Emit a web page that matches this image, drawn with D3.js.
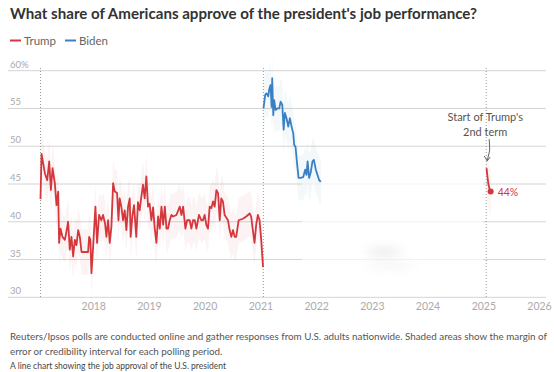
<!DOCTYPE html>
<html>
<head>
<meta charset="utf-8">
<script src="https://cdn.jsdelivr.net/npm/d3@7"></script>
<style>
body { margin: 0; background: #fff; }
svg { display: block; font-family: Lato, "Open Sans", sans-serif; }
</style>
</head>
<body>
<svg id="chart" width="554" height="372"></svg>
<script>
// Trump, first term (Reuters/Ipsos approval, %)
var trumpDates = [
  "2017-01-20","2017-01-27","2017-02-18","2017-03-05","2017-03-18","2017-03-29","2017-04-09","2017-04-24",
  "2017-05-05","2017-05-16","2017-05-22","2017-05-31","2017-06-13","2017-06-29","2017-07-09","2017-07-20",
  "2017-07-31","2017-08-11","2017-08-22","2017-09-02","2017-09-13","2017-09-24","2017-10-05","2017-10-16",
  "2017-11-28","2017-12-05","2017-12-13","2017-12-20","2017-12-31","2018-01-15","2018-01-26","2018-02-08",
  "2018-02-23","2018-03-06","2018-03-19","2018-03-28","2018-04-08","2018-04-19","2018-04-30","2018-05-11",
  "2018-05-22","2018-06-06","2018-06-15","2018-06-23","2018-07-04","2018-07-15","2018-07-26","2018-08-06",
  "2018-08-17","2018-08-28","2018-09-03","2018-09-14","2018-09-25","2018-10-10","2018-10-21","2018-11-01",
  "2018-11-12","2018-11-23","2018-12-04","2018-12-15","2018-12-26","2019-01-05","2019-01-17","2019-01-28",
  "2019-02-08","2019-02-19","2019-03-02","2019-03-13","2019-03-24","2019-04-04","2019-04-15","2019-04-26",
  "2019-05-06","2019-05-17","2019-05-28","2019-06-08","2019-06-30","2019-07-22","2019-08-02","2019-08-13",
  "2019-08-28","2019-09-08","2019-09-25","2019-10-06","2019-10-17","2019-10-28","2019-11-08","2019-11-25",
  "2019-12-10","2019-12-21","2020-01-01","2020-01-12","2020-01-23","2020-02-03","2020-02-14","2020-02-25",
  "2020-03-07","2020-03-18","2020-03-29","2020-04-09","2020-04-19","2020-04-30","2020-05-11","2020-06-02",
  "2020-06-13","2020-06-24","2020-07-05","2020-07-16","2020-07-26","2020-08-11","2020-09-08","2020-09-30",
  "2020-10-22","2020-11-01","2020-11-12","2020-11-23","2020-12-04","2020-12-15","2020-12-26","2021-01-06",
  "2021-01-18"
];
var trumpValues = [
  43,49,46.4,45.5,48,44.2,47.1,45.1,
  42.2,44,37.2,39.1,38,37.6,38.7,40,
  36.3,38,35.4,37.6,36.9,38.9,38,36,
  36,38,37.6,33.2,36.7,42,37.2,40.9,
  40.2,40.9,39.8,38,40.2,37.2,39.4,45.1,
  44,43.8,40.2,43.1,42,40.2,41.5,38.9,
  42,43.1,38,40.7,42.2,38,42.6,41.5,
  43.3,44.9,43.1,46,42,42.4,40.2,41.9,
  39.1,37.2,40.7,39.1,42,39.6,42,39.1,
  39.1,40.2,40.9,40.7,40.9,42,40.9,42,
  39.1,40.2,40.2,39.1,40.2,40.2,39.1,40.9,
  40.2,40.2,40.9,39.6,39.1,42,41.8,42.7,
  42,44.2,43.8,40.2,43.1,42.7,40.9,40.2,
  38.9,38,38.9,38,38,40.2,40.4,40.7,
  41.1,40.7,38.9,37.2,39.6,40.9,40.2,37.6,
  34
];

// Biden (as visible in the picture)
var bidenDates = [
  "2021-01-21","2021-02-01","2021-02-10","2021-02-21","2021-02-27","2021-03-08","2021-03-15","2021-03-19",
  "2021-03-26","2021-04-01","2021-04-10","2021-04-21","2021-05-04","2021-05-13","2021-05-24","2021-06-02",
  "2021-06-10","2021-06-21","2021-07-02","2021-07-13","2021-07-24","2021-08-04","2021-08-10","2021-08-19",
  "2021-08-30","2021-09-08","2021-09-21","2021-10-08","2021-10-21","2021-10-30","2021-11-06","2021-11-16",
  "2021-11-27","2021-12-08","2021-12-17","2021-12-30","2022-01-10","2022-01-21","2022-02-01"
];
var bidenValues = [
  55,56.8,57,56.6,57.5,58.1,55.2,59,
  54.1,56.1,54.8,55,55,55.9,55.5,52.2,
  54.4,53.7,52.6,53.7,52.6,51.7,50.2,49.9,
  47.5,45.8,45.8,45.9,46.9,46.2,48,45.8,
  46.6,48,48.2,46.9,46.2,45.5,45.3
];

// Trump, second term
var trump2Dates = ["2025-01-22","2025-01-28","2025-02-03","2025-02-10","2025-02-18"];
var trump2Values = [47.1,46,45,44.4,44];

var moe = 3;            // half-width of the shaded interval, points
var yTicks = [30, 35, 40, 45, 50, 55, 60];
var xYears = [2018, 2019, 2020, 2021, 2022, 2023, 2024, 2025, 2026];
var termStarts = ["2017-01-20", "2021-01-20", "2025-01-20"];
var latestLabel = "44%";

var red = "#d4373c";
var blue = "#3b80c2";

function drawChart() {
    var svg = d3.select("#chart");
    var parse = d3.timeParse("%Y-%m-%d");

    var x = d3.scaleTime()
        .domain([new Date(2017, 0, 1), new Date(2026, 0, 1)])
        .range([37.6, 539]);
    var y = d3.scaleLinear().domain([30, 60]).range([297.3, 70.7]);

    function pts(dates, values) {
        return dates.map(function(d, i) { return {date: parse(d), value: values[i]}; });
    }
    var trump = pts(trumpDates, trumpValues);
    var biden = pts(bidenDates, bidenValues);
    var trump2 = pts(trump2Dates, trump2Values);

    // title + legend
    svg.append("text")
        .attr("x", 10).attr("y", 18.5)
        .attr("font-size", "14.5px").attr("font-weight", 700)
        .attr("fill", "#333")
        .attr("textLength", 467).attr("lengthAdjust", "spacingAndGlyphs")
        .text("What share of Americans approve of the president's job performance?");

    var legend = [{name: "Trump", color: red, x: 10}, {name: "Biden", color: blue, x: 65}];
    var lg = svg.append("g").selectAll("g").data(legend).enter().append("g");
    lg.append("line")
        .attr("x1", function(d) { return d.x; }).attr("x2", function(d) { return d.x + 11; })
        .attr("y1", 40.5).attr("y2", 40.5)
        .attr("stroke", function(d) { return d.color; }).attr("stroke-width", 2);
    lg.append("text")
        .attr("x", function(d) { return d.x + 14; }).attr("y", 44.5)
        .attr("font-size", "11.5px").attr("fill", "#666")
        .text(function(d) { return d.name; });

    // grid
    svg.append("g").selectAll("line").data(yTicks).enter().append("line")
        .attr("x1", 8).attr("x2", 546)
        .attr("y1", function(d) { return y(d); }).attr("y2", function(d) { return y(d); })
        .attr("stroke", "#d4d4d4").attr("stroke-width", 1);
    svg.append("g").selectAll("text").data(yTicks).enter().append("text")
        .attr("x", 10).attr("y", function(d) { return y(d) - 3; })
        .attr("font-size", "9.5px").attr("fill", "#aaa")
        .text(function(d) { return d === 60 ? d + "%" : d; });

    // x axis labels
    var xAxis = d3.axisBottom(x)
        .tickValues(xYears.map(function(yr) { return new Date(yr, 0, 1); }))
        .tickFormat(d3.timeFormat("%Y"))
        .tickSize(0).tickPadding(0);
    var ax = svg.append("g").attr("transform", "translate(0,303)").call(xAxis);
    ax.select(".domain").remove();
    ax.selectAll("text")
        .attr("font-family", "Lato, sans-serif").attr("font-size", "10.5px")
        .attr("fill", "#aaa").attr("dy", "0.71em");

    // faded patch in the middle of the picture
    var defs = svg.append("defs");
    defs.append("filter").attr("id", "blur")
        .attr("x", "-100%").attr("y", "-300%").attr("width", "300%").attr("height", "700%")
        .append("feGaussianBlur").attr("stdDeviation", 5);
    svg.append("rect")
        .attr("x", 302).attr("y", 160).attr("width", 181).attr("height", 131)
        .attr("fill", "#fff").attr("opacity", 0.7);
    svg.append("ellipse")
        .attr("cx", 384).attr("cy", 252).attr("rx", 18).attr("ry", 4)
        .attr("fill", "#bbb").attr("opacity", 0.3).attr("filter", "url(#blur)");
    svg.append("ellipse")
        .attr("cx", 390).attr("cy", 266).attr("rx", 26).attr("ry", 1.5)
        .attr("fill", "#bbb").attr("opacity", 0.3).attr("filter", "url(#blur)");

    // inauguration markers
    svg.append("g").selectAll("line").data(termStarts).enter().append("line")
        .attr("x1", function(d) { return x(parse(d)); }).attr("x2", function(d) { return x(parse(d)); })
        .attr("y1", 68).attr("y2", 298)
        .attr("stroke", "#999").attr("stroke-width", 1).attr("stroke-dasharray", "1,2");

    // shaded intervals
    var band = d3.area()
        .x(function(d) { return x(d.date); })
        .y0(function(d) { return y(d.value - moe); })
        .y1(function(d) { return y(d.value + moe); });
    var line = d3.line()
        .x(function(d) { return x(d.date); })
        .y(function(d) { return y(d.value); });

    var series = [
        {data: trump, color: red},
        {data: biden, color: blue},
        {data: trump2, color: red}
    ];
    series.forEach(function(s) {
        svg.append("path").datum(s.data)
            .attr("d", band).attr("fill", s.color).attr("opacity", 0.06);
    });
    series.forEach(function(s) {
        svg.append("path").datum(s.data)
            .attr("d", line).attr("fill", "none")
            .attr("stroke", s.color).attr("stroke-width", 1.8)
            .attr("stroke-linejoin", "round");
    });

    // latest point
    var last = trump2[trump2.length - 1];
    svg.append("circle")
        .attr("cx", x(last.date)).attr("cy", y(last.value)).attr("r", 3)
        .attr("fill", red);
    svg.append("text")
        .attr("x", x(last.date) + 7).attr("y", y(last.value) + 4)
        .attr("font-size", "10.5px").attr("fill", red)
        .text(latestLabel);

    // annotation
    var ax2 = x(parse(termStarts[2]));
    var note = svg.append("text")
        .attr("text-anchor", "middle").attr("font-size", "11px").attr("fill", "#555");
    note.append("tspan").attr("x", ax2 - 1).attr("y", 121).text("Start of Trump's");
    note.append("tspan").attr("x", ax2 - 1).attr("y", 136).text("2nd term");

    svg.append("path")
        .attr("d", "M" + (ax2 + 3) + ",139 Q" + (ax2 + 5) + ",150 " + (ax2 + 1) + ",161")
        .attr("fill", "none").attr("stroke", "#666").attr("stroke-width", 1);
    svg.append("path")
        .attr("d", "M" + (ax2 - 2) + ",156 L" + (ax2 + 1) + ",161 L" + (ax2 + 4) + ",157")
        .attr("fill", "none").attr("stroke", "#666").attr("stroke-width", 1);

    // notes
    var foot = svg.append("g").attr("font-size", "9.8px").attr("fill", "#555");
    foot.append("text").attr("x", 10).attr("y", 340)
        .attr("textLength", 537).attr("lengthAdjust", "spacingAndGlyphs")
        .text("Reuters/Ipsos polls are conducted online and gather responses from U.S. adults nationwide. Shaded areas show the margin of");
    foot.append("text").attr("x", 10).attr("y", 355)
        .text("error or credibility interval for each polling period.");
    svg.append("text").attr("x", 10).attr("y", 369)
        .attr("font-size", "8.5px").attr("fill", "#444")
        .text("A line chart showing the job approval of the U.S. president");
}

drawChart();
</script>
</body>
</html>
